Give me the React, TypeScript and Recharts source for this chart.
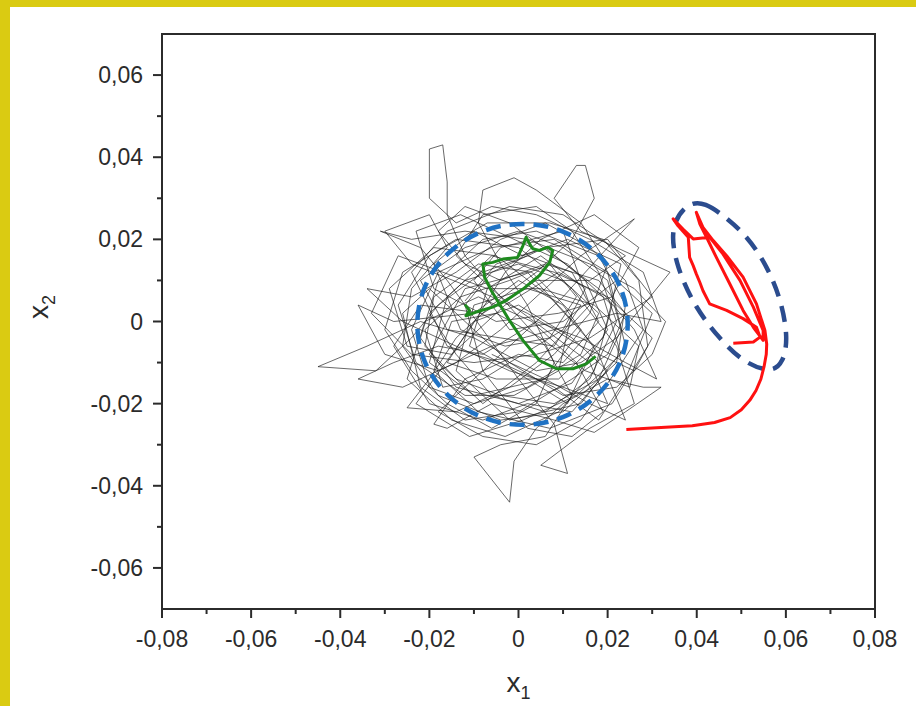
import { ComposedChart, Line, XAxis, YAxis, ReferenceArea, Label } from 'recharts';

// black trajectory, in units of 1e-3
const trajectory: [number, number][] = [
    [-12, 5], [-5, 14], [6, 18], [15, 10], [20, -2], [12, -15], [0, -20], [-14, -16], [-22, -4], [-18, 10],
    [-8, 20], [4, 22], [18, 16], [24, 4], [22, -10], [10, -22], [-4, -24], [-18, -18], [-26, -6], [-24, 8],
    [-16, 18], [-20, 26], [-30, 22], [-24, 14], [-10, 8], [2, 2], [14, -6], [26, -12], [30, -4], [20, 6],
    [8, 12], [-6, 16], [-16, 6], [-20, -10], [-10, -18], [6, -14], [16, -20], [24, -24], [18, -8], [10, 4],
    [0, 10], [-10, 2], [-28, 0], [-36, 4], [-30, -8], [-18, -12], [-6, -6], [8, -2], [22, 2], [32, 0],
    [28, 12], [16, 20], [4, 26], [-6, 28], [-14, 24], [-20, 30], [-20, 36], [-20, 42], [-17, 43], [-16, 34], [-16, 26],
    [-12, 16], [-4, 6], [6, -6], [12, -18], [6, -28], [-4, -30], [-10, -33], [-2, -44], [-1, -34], [4, -26],
    [10, -20], [20, -14], [28, -16], [32, -16], [24, -22], [17, -27], [8, -24], [-6, -20], [-16, -26], [-19, -25],
    [-12, -14], [0, -8], [10, -10], [18, 0], [12, 12], [2, 16], [-8, 12], [-18, 4], [-24, -4], [-32, -12],
    [-45, -11], [-34, -6], [-22, 0], [-10, -4], [4, -12], [14, -10], [22, -4], [28, 4], [34, 12], [26, 16],
    [14, 22], [8, 30], [13, 38], [15, 38], [17, 30], [12, 20], [4, 12], [-6, 4], [-14, -4], [-20, -14],
    [-25, -21], [-14, -22], [-2, -16], [8, -8], [16, 2], [20, 14], [14, 24], [4, 32], [-1, 35], [-8, 32],
    [-9, 24], [-4, 14], [2, 4], [8, -10], [4, -20], [-6, -26], [-16, -20], [-24, -12], [-30, -2], [-26, 12],
    [-14, 20], [0, 18], [12, 8], [22, -6], [26, -20], [16, -26], [5, -35], [11, -37], [8, -25], [0, -14],
    [-8, -2], [-16, 10], [-22, 18], [-31, 22], [-24, 20], [-12, 22], [2, 20], [16, 14], [26, 8], [33, 0],
    [30, -8], [22, -16], [10, -18], [-2, -10], [-12, 0], [-20, 8], [-26, 2], [-22, -16], [-12, -24], [0, -22],
    [12, -14], [20, -8], [24, 2], [18, 10], [6, 14], [-4, 10], [-12, 14], [-18, 22], [-12, 28], [-2, 24],
    [8, 16], [18, 8], [26, -2], [31, -14], [24, -10], [14, -4], [4, 0], [-8, -8], [-18, -6], [-28, -10],
    [-36, -14], [-26, -16], [-14, -10], [-4, -2], [6, 8], [14, 16], [22, 22], [26, 25], [20, 18], [10, 6],
    [0, -4], [-10, -14], [-18, -22], [-8, -28], [4, -30], [14, -24], [22, -12], [28, -2], [24, 10], [16, 18],
    [6, 24], [-4, 20], [-14, 12], [-24, 6], [-34, 8], [-26, 0], [-14, -6], [-2, -12], [10, -16], [20, -20],
    [16, -10], [6, -2], [-4, 6], [-14, 16], [-8, 26], [4, 28], [12, 22], [18, 12], [22, 0], [16, -14],
    [6, -22], [-6, -18], [-14, -8], [-20, 2], [-12, 10], [0, 14], [10, 10], [18, 2], [14, -8], [2, -16],
    [-10, -20], [-20, -16], [-24, -2], [-18, 12], [-6, 18], [8, 20], [20, 12], [24, -6], [14, -20], [-2, -24],
    [-14, -12], [-10, 4], [2, 8], [14, 4], [8, -6], [-4, -4],
    [-16, -2], [-22, 10], [-12, 18], [0, 22], [10, 18], [20, 10], [23, -2], [18, -14], [8, -20], [-4, -18],
    [-14, -14], [-21, -6], [-19, 6], [-9, 14], [3, 12], [12, 2], [9, -12], [-1, -18], [-12, -18], [-23, -10],
    [-27, 4], [-20, 16], [-7, 24], [7, 24], [19, 20], [27, 10], [29, -6], [21, -20], [7, -26], [-9, -22],
    [-19, -12], [-15, 0], [-5, 2], [5, -4], [15, -12], [25, -16], [27, -6], [17, 4], [5, 8], [-7, 8],
    [-17, 12], [-27, 16], [-33, 2], [-24, -8], [-10, -10], [4, -8], [16, -4], [30, 6], [20, 20], [6, 18],
    [-6, 12], [-12, 4], [-8, -12], [2, -26], [12, -28], [19, -22], [13, -10], [3, 0], [-9, 6], [-21, 0],
    [-25, -14], [-15, -24], [-3, -28], [9, -22], [17, -12], [21, 4], [11, 14], [-1, 20], [-13, 26], [-23, 22],
    [-19, 8], [-5, 0], [9, 2], [21, 6], [27, 18], [17, 26], [5, 20], [-3, 12], [-11, -2], [-23, -20],
    [-11, -28], [1, -24], [13, -18], [23, -8], [19, 6], [9, 12], [-3, 4], [-15, -8], [-25, -6], [-29, 8],
    [-19, 18], [-5, 16], [7, 6], [17, -6], [11, -20], [-1, -12], [-11, -6], [-7, 8], [5, 16], [15, 8],
    [10, -2], [1, -8], [-8, -14], [-17, -16], [-21, -2], [-13, 6], [-2, 10], [7, 14], [13, 6], [7, -4],
    [-3, -6], [-13, -2], [-19, 14], [-10, 22], [1, 16], [11, 20], [23, 14], [19, -4], [9, -14], [-5, -14],
    [-16, -10], [-10, 0], [0, 4], [12, -4], [20, -12], [12, -22], [2, -20], [-8, -24], [-20, -20], [-28, -6],
    [-22, 4], [-8, 2], [4, 10], [16, 10], [24, 16], [10, 26], [-2, 28], [-16, 22], [-24, 12], [-16, -6],
    [-4, -10], [8, -16], [18, -24], [24, -14], [30, 2], [22, 10], [10, 0], [-2, -2], [-10, 10], [-4, 18],
    [10, 22], [16, 4], [4, -10], [-8, -20], [-20, -8], [-12, 8], [2, 12], [14, -2], [6, -14], [-6, -8],
];

const greenPath: [number, number][] = [
    [-0.0120, 0.0041], [-0.0110, 0.0027], [-0.0118, 0.0014], [-0.0095, 0.0023], [-0.0058, 0.0035],
    [-0.0028, 0.0051], [0.0010, 0.0079], [0.0047, 0.0112], [0.0070, 0.0144], [0.0077, 0.0173],
    [0.0066, 0.0181], [0.0047, 0.0173], [0.0032, 0.0177], [0.0025, 0.0189], [0.0017, 0.0205],
    [0.0010, 0.0185], [-0.0002, 0.0156], [-0.0035, 0.0152], [-0.0058, 0.0144], [-0.0080, 0.0140],
    [-0.0076, 0.0108], [-0.0061, 0.0075], [-0.0043, 0.0043], [-0.0020, 0.0002], [0.0010, -0.0046],
    [0.0047, -0.0095], [0.0085, -0.0115], [0.0122, -0.0115], [0.0152, -0.0103], [0.0173, -0.0085],
];

const redPath: [number, number][] = [
    [0.0242, -0.0263], [0.0290, -0.0260], [0.0340, -0.0257], [0.0390, -0.0254], [0.0440, -0.0246],
    [0.0475, -0.0234], [0.0500, -0.0215], [0.0519, -0.0192], [0.0533, -0.0168], [0.0544, -0.0140],
    [0.0551, -0.0110], [0.0556, -0.0080], [0.0557, -0.0055], [0.0553, -0.0022], [0.0534, 0.0043],
    [0.0504, 0.0108], [0.0467, 0.0160], [0.0437, 0.0197], [0.0414, 0.0229], [0.0399, 0.0266],
    [0.0407, 0.0237], [0.0422, 0.0205], [0.0444, 0.0156], [0.0474, 0.0092], [0.0504, 0.0027],
    [0.0527, -0.0014], [0.0549, -0.0046], [0.0549, -0.0022], [0.0527, 0.0035], [0.0497, 0.0100],
    [0.0459, 0.0164], [0.0429, 0.0205], [0.0392, 0.0201], [0.0369, 0.0225], [0.0347, 0.0250],
    [0.0358, 0.0233], [0.0381, 0.0205], [0.0384, 0.0156], [0.0392, 0.0136], [0.0399, 0.0116],
    [0.0407, 0.0095], [0.0414, 0.0075], [0.0429, 0.0043], [0.0467, 0.0027], [0.0504, 0.0007],
    [0.0534, -0.0014], [0.0542, -0.0038], [0.0527, -0.0050], [0.0482, -0.0053],
];

// dashed outline around the noisy attractor
const circleOutline: [number, number][] = [
    [0.0251, -0.0007], [0.0233, 0.0089], [0.0180, 0.0170], [0.0102, 0.0225], [0.0009, 0.0244],
    [-0.0084, 0.0225], [-0.0162, 0.0170], [-0.0215, 0.0089], [-0.0233, -0.0007], [-0.0215, -0.0103],
    [-0.0162, -0.0184], [-0.0084, -0.0239], [0.0009, -0.0258], [0.0102, -0.0239], [0.0180, -0.0184],
    [0.0233, -0.0103],
];

// dashed outline around the red orbit
const ellipseOutline: [number, number][] = [
    [0.0382, 0.0292], [0.0420, 0.0288], [0.0459, 0.0259], [0.0513, 0.0209], [0.0559, 0.0133],
    [0.0590, 0.0050], [0.0605, -0.0042], [0.0594, -0.0100], [0.0567, -0.0125], [0.0505, -0.0100],
    [0.0451, -0.0042], [0.0397, 0.0033], [0.0354, 0.0133], [0.0339, 0.0233],
];

const xTicks = [-0.08, -0.07, -0.06, -0.05, -0.04, -0.03, -0.02, -0.01, 0, 0.01, 0.02, 0.03, 0.04, 0.05, 0.06, 0.07, 0.08];
const yTicks = [-0.06, -0.05, -0.04, -0.03, -0.02, -0.01, 0, 0.01, 0.02, 0.03, 0.04, 0.05, 0.06];

const toPts = (arr: [number, number][], k = 1) => arr.map(([x, y]) => ({ x: x * k, y: y * k }));

const FONT = '"Liberation Sans", Arial, sans-serif';
const INK = '#2b2b2b';
const X_AXIS_H = 60;
const Y_AXIS_W = 100;

const isMajor = (v: number) => Math.round(Math.abs(v) * 100) % 2 === 0;
const fmt = (v: number) => (Math.abs(v) < 1e-9 ? '0' : v.toFixed(2).replace('.', ','));

const XTick = ({ x, y, payload }: any) => {
    const major = isMajor(payload.value);
    return (
        <g>
            <line x1={x} x2={x} y1={y} y2={y + (major ? 9 : 5)} stroke={INK} strokeWidth={2} />
            {major && (
                <text x={x} y={y + 38} textAnchor="middle" fontSize={23} fontFamily={FONT} fill={INK}>{fmt(payload.value)}</text>
            )}
        </g>
    );
};

const YTick = ({ x, y, payload }: any) => {
    const major = isMajor(payload.value);
    return (
        <g>
            <line x1={x} x2={x - (major ? 9 : 5)} y1={y} y2={y} stroke={INK} strokeWidth={2} />
            {major && (
                <text x={x - 19} y={y + 8} textAnchor="end" fontSize={23} fontFamily={FONT} fill={INK}>{fmt(payload.value)}</text>
            )}
        </g>
    );
};

const XTitle = ({ viewBox }: any) => (
    <text x={viewBox.x + viewBox.width / 2} y={viewBox.y + 83} textAnchor="middle" fontSize={28} fontFamily={FONT} fill={INK}>
        <tspan>x</tspan><tspan dy={7} fontSize={18}>1</tspan>
    </text>
);

const YTitle = ({ viewBox }: any) => {
    const cx = viewBox.x + viewBox.width - 114;
    const cy = 307;
    return (
        <text x={cx} y={cy} transform={`rotate(-90, ${cx}, ${cy})`} textAnchor="middle" fontSize={28} fontFamily={FONT} fill={INK}>
            <tspan>x</tspan><tspan dy={7} fontSize={18}>2</tspan>
        </text>
    );
};

export default function App() {
    return (
        <div style={{ position: 'absolute', left: 0, top: 0, width: 916, height: 706, background: '#dacb12', overflow: 'hidden' }}>
            <div style={{ position: 'absolute', left: 10, top: 7, width: 906, height: 699, background: '#fff' }} />
            <div style={{ position: 'absolute', left: 0, top: 0 }}>
                <ComposedChart width={916} height={706}
                    margin={{ top: 34, right: 41, bottom: 97 - X_AXIS_H, left: 162 - Y_AXIS_W }}>
                    <XAxis type="number" dataKey="x" domain={[-0.08, 0.08]} ticks={xTicks} interval={0}
                        height={X_AXIS_H} tickSize={0} tickMargin={0} tickLine={false}
                        axisLine={{ stroke: INK, strokeWidth: 2 }} tick={<XTick />}>
                        <Label content={<XTitle />} />
                    </XAxis>
                    <YAxis type="number" dataKey="y" domain={[-0.07, 0.07]} ticks={yTicks} interval={0}
                        width={Y_AXIS_W} tickSize={0} tickMargin={0} tickLine={false}
                        axisLine={{ stroke: INK, strokeWidth: 2 }} tick={<YTick />}>
                        <Label content={<YTitle />} />
                    </YAxis>
                    <ReferenceArea x1={-0.08} x2={0.08} y1={-0.07} y2={0.07} fill="none" stroke={INK} strokeWidth={2} />
                    <Line data={toPts(trajectory, 0.001)} dataKey="y" type="linear" stroke="#1c1c1c" strokeWidth={0.85}
                        strokeOpacity={0.78} dot={false} activeDot={false} isAnimationActive={false} />
                    <Line data={toPts(circleOutline)} dataKey="y" type="basisClosed" stroke="#1f72c4" strokeWidth={4.5}
                        strokeDasharray="15 9" dot={false} activeDot={false} isAnimationActive={false} />
                    <Line data={toPts(greenPath)} dataKey="y" type="linear" stroke="#1e8a1e" strokeWidth={3}
                        strokeLinejoin="round" dot={false} activeDot={false} isAnimationActive={false} />
                    <Line data={toPts(ellipseOutline)} dataKey="y" type="basisClosed" stroke="#2b4c8e" strokeWidth={4.5}
                        strokeDasharray="16 10" dot={false} activeDot={false} isAnimationActive={false} />
                    <Line data={toPts(redPath)} dataKey="y" type="linear" stroke="#ff1111" strokeWidth={3}
                        strokeLinejoin="round" dot={false} activeDot={false} isAnimationActive={false} />
                </ComposedChart>
            </div>
        </div>
    );
}
